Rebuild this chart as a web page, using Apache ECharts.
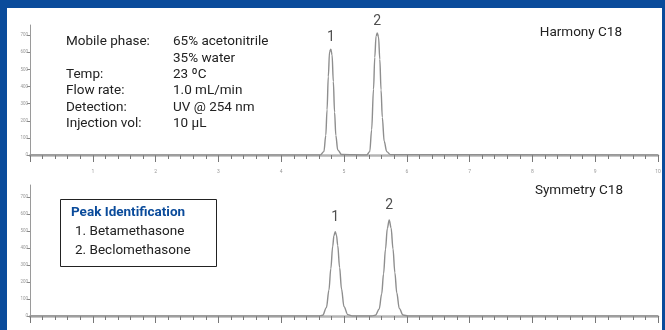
<!DOCTYPE html>
<html><head><meta charset="utf-8">
<script src="https://cdn.jsdelivr.net/npm/echarts@6/dist/echarts.min.js"></script>
<style>html,body{margin:0;padding:0;background:#fff;overflow:hidden}#c{width:665px;height:330px}</style>
</head><body><div id="c"></div>
<script>
// ---- data ----
const harmonyTime  = [0, 4.62, 4.68, 4.71, 4.73, 4.75, 4.77, 4.79, 4.81, 4.83, 4.85, 4.87, 4.90, 4.96, 5.36, 5.41, 5.44, 5.47, 5.49, 5.51, 5.53, 5.55, 5.57, 5.59, 5.61, 5.64, 5.68, 5.74, 10];
const harmonyValue = [0, 0, 20, 115, 264, 458, 604, 618, 585, 430, 250, 115, 30, 3, 0, 20, 147, 385, 571, 695, 713, 690, 560, 380, 220, 80, 20, 2, 0];
const symmetryTime  = [0, 4.60, 4.66, 4.72, 4.76, 4.79, 4.82, 4.84, 4.86, 4.88, 4.90, 4.93, 4.96, 5.00, 5.06, 5.14, 5.44, 5.50, 5.56, 5.60, 5.63, 5.66, 5.69, 5.72, 5.75, 5.78, 5.81, 5.84, 5.88, 5.94, 6.02, 10];
const symmetryValue = [0, 0, 4, 49, 152, 278, 410, 473, 496, 475, 415, 285, 160, 55, 8, 0, 0, 4, 41, 130, 248, 391, 515, 565, 518, 395, 255, 137, 45, 6, 0, 0];
const peakLabels = ['1', '2'];
const harmonyPeakTime = [4.79, 5.53];
const harmonyPeakValue = [618, 713];
const symmetryPeakTime = [4.86, 5.72];
const symmetryPeakValue = [496, 565];
const yTickValues = [0, 100, 200, 300, 400, 500, 600, 700];
const xLabelValues = [1, 2, 3, 4, 5, 6, 7, 8, 9, 10];
const columnNames = ['Harmony C18', 'Symmetry C18'];
const conditionKeys = ['Mobile phase:', '', 'Temp:', 'Flow rate:', 'Detection:', 'Injection vol:'];
const conditionVals = ['65% acetonitrile', '35% water', '23 ºC', '1.0 mL/min', 'UV @ 254 nm', '10 µL'];
const peakIdTitle = 'Peak Identification';
const peakIdNames = ['1. Betamethasone', '2. Beclomethasone'];

// ---- chart ----
const FONT = 'Roboto, "Noto Sans", sans-serif';
const BLUE = '#0a4b9b';
const chart = echarts.init(document.getElementById('c'), null, {renderer: 'canvas'});
const pair = (t, v) => t.map((x, i) => [x, v[i]]);

function xAxis(gi) {
  return {
    type: 'value', gridIndex: gi, min: 0, max: 10, interval: 1,
    axisLine: {show: true, onZero: false, lineStyle: {color: '#b5b5b5', width: 2.5}},
    axisTick: {show: true, length: 7, lineStyle: {color: '#777', width: 1}},
    minorTick: {show: true, splitNumber: 5, length: 4, lineStyle: {color: '#777', width: 1}},
    axisLabel: {customValues: xLabelValues, fontSize: 5, color: '#999', margin: 14, fontFamily: FONT},
    splitLine: {show: false}, minorSplitLine: {show: false}
  };
}
function yAxis(gi, max) {
  return {
    type: 'value', gridIndex: gi, min: 0, max: max, interval: 100,
    axisLine: {show: true, lineStyle: {color: '#9a9a9a', width: 1}},
    axisTick: {show: true, length: 3, customValues: yTickValues, lineStyle: {color: '#888'}},
    axisLabel: {customValues: yTickValues, fontSize: 4.5, color: '#999', margin: 2, fontFamily: FONT},
    splitLine: {show: false}
  };
}
function trace(gi, t, v) {
  return {type: 'line', xAxisIndex: gi, yAxisIndex: gi, data: pair(t, v), showSymbol: false,
    smooth: 0.35, smoothMonotone: 'x', lineStyle: {color: '#8e8e8e', width: 1.4}, silent: true, z: 3};
}
function peaks(gi, t, v, dist) {
  return {type: 'scatter', xAxisIndex: gi, yAxisIndex: gi, symbolSize: 0, silent: true,
    data: t.map((x, i) => ({value: [x, v[i]], name: peakLabels[i]})),
    label: {show: true, position: 'top', distance: dist, formatter: p => p.name,
      fontSize: 14, color: '#222', fontFamily: FONT}};
}

const F = '13.5px ' + FONT;
const graphics = [
  {type: 'rect', shape: {x: 0, y: 0, width: 665, height: 8}, style: {fill: BLUE}},
  {type: 'rect', shape: {x: 0, y: 0, width: 7, height: 330}, style: {fill: BLUE}},
  {type: 'rect', shape: {x: 662, y: 0, width: 3, height: 330}, style: {fill: BLUE}},
  {type: 'text', x: 622, y: 33, style: {text: columnNames[0], align: 'right', verticalAlign: 'middle', fill: '#222', font: F}},
  {type: 'text', x: 623, y: 191, style: {text: columnNames[1], align: 'right', verticalAlign: 'middle', fill: '#222', font: F}},
  {type: 'rect', shape: {x: 60.5, y: 199.5, width: 156, height: 67}, style: {fill: '#fff', stroke: '#222', lineWidth: 1}, z: 10},
  {type: 'text', x: 71, y: 213, z: 11, style: {text: peakIdTitle, verticalAlign: 'middle', fill: BLUE, font: 'bold ' + F}},
];
peakIdNames.forEach((n, i) => graphics.push({type: 'text', x: 75, y: 232 + i * 18.5, z: 11,
  style: {text: n, verticalAlign: 'middle', fill: '#222', font: F}}));
conditionKeys.forEach((k, i) => {
  const y = 42 + i * 16.3;
  if (k) graphics.push({type: 'text', x: 66, y: y, style: {text: k, verticalAlign: 'middle', fill: '#222', font: F}});
  graphics.push({type: 'text', x: 173, y: y, style: {text: conditionVals[i], verticalAlign: 'middle', fill: '#222', font: F}});
});

chart.setOption({
  animation: false,
  backgroundColor: '#fff',
  grid: [
    {left: 30, right: 7, top: 25, height: 130, outerBoundsMode: 'none', containLabel: false},
    {left: 30, right: 7, top: 185, height: 131, outerBoundsMode: 'none', containLabel: false}
  ],
  xAxis: [xAxis(0), xAxis(1)],
  yAxis: [yAxis(0, 760), yAxis(1, 770)],
  series: [
    trace(0, harmonyTime, harmonyValue),
    trace(1, symmetryTime, symmetryValue),
    peaks(0, harmonyPeakTime, harmonyPeakValue, 5),
    peaks(1, symmetryPeakTime, symmetryPeakValue, 7)
  ],
  graphic: graphics
});
</script></body></html>
